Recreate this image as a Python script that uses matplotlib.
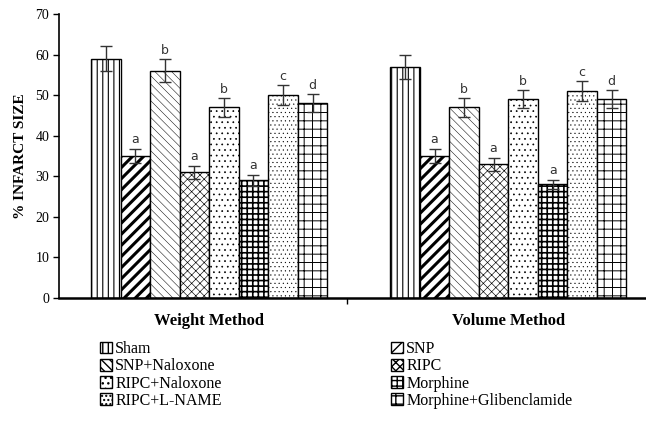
import matplotlib.pyplot as plt
import numpy as np

plt.rcParams['font.family'] = ['Liberation Serif', 'DejaVu Serif']

# data
groups = ['Weight Method', 'Volume Method']
treatments = ['Sham', 'SNP', 'SNP+Naloxone', 'RIPC', 'RIPC+Naloxone',
              'Morphine', 'RIPC+L-NAME', 'Morphine+Glibenclamide']
weight_vals = [59, 35, 56, 31, 47, 29, 50, 48]
weight_err = [3.0, 1.8, 2.8, 1.6, 2.3, 1.4, 2.5, 2.2]
volume_vals = [57, 35, 47, 33, 49, 28, 51, 49]
volume_err = [2.9, 1.8, 2.3, 1.6, 2.2, 1.2, 2.5, 2.2]
weight_letters = ['', 'a', 'b', 'a', 'b', 'a', 'c', 'd']
volume_letters = ['', 'a', 'b', 'a', 'b', 'a', 'c', 'd']

# hatch style for every treatment: (pattern, hatch linewidth)
hatches = [('|||', 0.8), ('///', 2.2), ('\\\\\\\\', 0.35), ('xxxx', 0.45),
           ('...', 0.5), ('+++', 1.2), ('....', 0.3), ('++', 0.7)]

fig = plt.figure(figsize=(6.46, 4.24), dpi=100)
ax = fig.add_axes([59 / 646, 126 / 424, 1 - 59 / 646, 284 / 424])

width = 0.0987
x = np.arange(len(groups))
offsets = (np.arange(len(treatments)) - 3.5) * width

vals = [weight_vals, volume_vals]
errs = [weight_err, volume_err]
letters = [weight_letters, volume_letters]

handles = []
for i, name in enumerate(treatments):
    hv = [vals[g][i] for g in range(len(groups))]
    he = [errs[g][i] for g in range(len(groups))]
    bars = ax.bar(x + offsets[i], hv, width, color='white', edgecolor='black',
                  linewidth=1.0, hatch=hatches[i][0], label=name, zorder=2)
    for b in bars:
        if hasattr(b, 'set_hatch_linewidth'):
            b.set_hatch_linewidth(hatches[i][1])
    ax.errorbar(x + offsets[i], hv, yerr=he, fmt='none', ecolor='#333333',
                elinewidth=1.0, capsize=4, capthick=1.0, zorder=3)
    for g in range(len(groups)):
        if letters[g][i]:
            ax.text(x[g] + offsets[i], hv[g] + he[g] + 0.6, letters[g][i],
                    ha='center', va='bottom', fontsize=9, color='#333333',
                    family='DejaVu Sans')
    handles.append(bars)

ax.set_ylim(0, 70)
ax.set_xlim(-0.502, 1.46)
ax.set_yticks(range(0, 71, 10))
ax.tick_params(axis='y', direction='out', length=4, width=1, labelsize=10, pad=3)
ax.set_xticks(x)
ax.set_xticklabels(groups, fontsize=12, fontweight='bold')
ax.tick_params(axis='x', length=0, pad=11)
ax.set_xticks([0.462], minor=True)
ax.tick_params(axis='x', which='minor', length=4, width=1, direction='out')
for s in ['top', 'right']:
    ax.spines[s].set_visible(False)
ax.spines['left'].set_linewidth(1.2)
ax.spines['bottom'].set_linewidth(1.8)
ax.set_ylabel('% INFARCT SIZE', fontsize=11, fontweight='bold', labelpad=6)

leg_kw = dict(frameon=False, fontsize=11.5, handlelength=0.75, handleheight=0.75,
              handletextpad=0.2, labelspacing=0.08, borderpad=0, borderaxespad=0)
fig.legend(handles[0::2], treatments[0::2], loc='upper left',
           bbox_to_anchor=(100 / 646, 1 - 341 / 424), **leg_kw)
fig.legend(handles[1::2], treatments[1::2], loc='upper left',
           bbox_to_anchor=(391 / 646, 1 - 341 / 424), **leg_kw)

fig.savefig('out.png', dpi=100)
